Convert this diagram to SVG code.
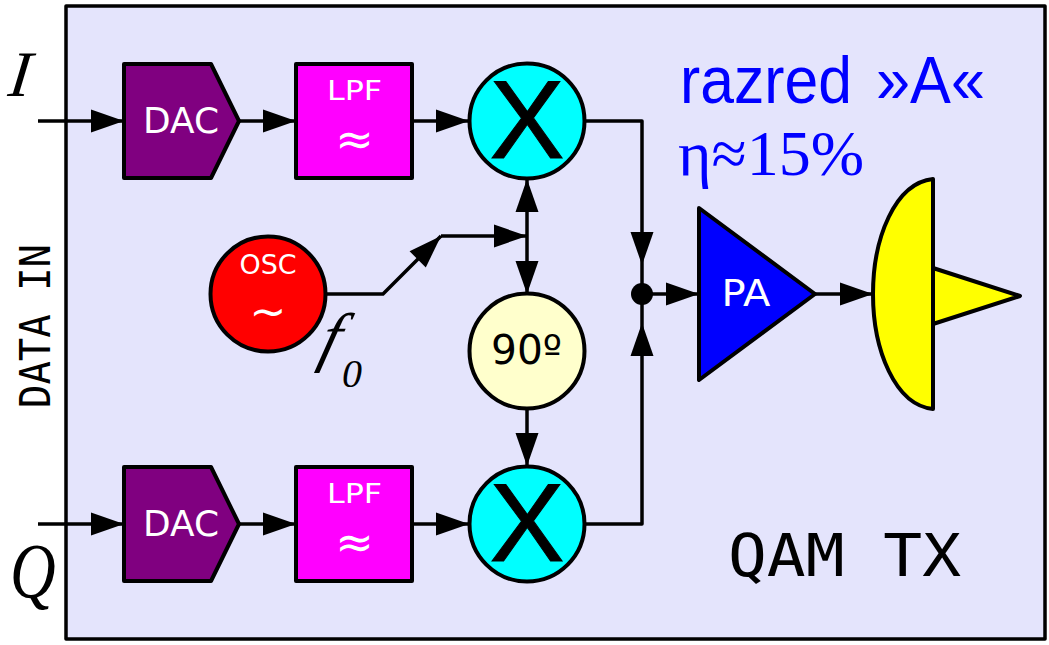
<svg xmlns="http://www.w3.org/2000/svg" width="1049" height="645" viewBox="0 0 1049 645">
<defs>
<marker id="arrow" markerUnits="userSpaceOnUse" markerWidth="33" markerHeight="23" refX="33" refY="11.5" orient="auto-start-reverse" overflow="visible"><path d="M0,0 L33,11.5 L0,23 Z" fill="#000"/></marker>
</defs>
<style>
.sh{stroke:#000;stroke-width:4;stroke-linejoin:round}
.ln{fill:none;stroke:#000;stroke-width:3.5;stroke-linejoin:round}
.a{marker-end:url(#arrow)}
.s{font-family:"DejaVu Sans",sans-serif;text-anchor:middle}
.x{font-family:"Liberation Sans",sans-serif;text-anchor:middle;fill:#000;stroke:#000;stroke-width:1;font-size:111px}
.w{fill:#fff}
.se{font-family:"Liberation Serif",serif;font-style:italic;fill:#000}
.m{font-family:"DejaVu Sans Mono",monospace;fill:#000}
.b{fill:#00f}
.h{font-family:"Liberation Sans",sans-serif;font-size:67px}
.t{font-family:"Liberation Serif","Times New Roman",serif;font-size:64px}
</style>
<rect id="frame" x="66" y="6" width="979" height="633" fill="#e4e4fc" stroke="#000" stroke-width="3.5" stroke-linejoin="round"/>
<g id="connectors">
<path class="ln a" d="M38,121H124"/>
<path class="ln a" d="M239,121H296"/>
<path class="ln a" d="M412,121H469"/>
<path class="ln a" d="M38,524H124"/>
<path class="ln a" d="M239,524H296"/>
<path class="ln a" d="M412,524H469"/>
<path class="ln a" d="M326,294H383L441,236"/>
<path class="ln a" d="M441,236H527"/>
<path class="ln a" d="M527,236V179"/>
<path class="ln a" d="M527,236V294"/>
<path class="ln a" d="M527,409V466"/>
<path class="ln a" d="M585,121H642V265"/>
<path class="ln a" d="M585,524H642V323"/>
<path class="ln" d="M642,265V323"/>
<path class="ln a" d="M642,294H699"/>
<path class="ln a" d="M815,294H873"/>
<circle cx="642" cy="294" r="11" fill="#000"/>
</g>
<g id="dac-i"><path class="sh" fill="#800080" d="M124,64H211L239,121L211,178H124Z"/><text class="s w" x="181" y="133" font-size="36" textLength="76" lengthAdjust="spacingAndGlyphs">DAC</text></g>
<g id="lpf-i"><rect class="sh" x="296" y="64" width="116" height="114" fill="#f0f"/><text class="s w" x="354.500" y="100" font-size="27" textLength="55" lengthAdjust="spacingAndGlyphs">LPF</text><text class="s w" x="354.500" y="155" font-size="46">≈</text></g>
<g id="mixer-i"><circle class="sh" cx="527" cy="121" r="57.5" fill="#0ff"/><text class="x" x="527" y="158" textLength="75" lengthAdjust="spacingAndGlyphs">X</text></g>
<g id="dac-q"><path class="sh" fill="#800080" d="M124,467H211L239,524L211,581H124Z"/><text class="s w" x="181" y="536" font-size="36" textLength="76" lengthAdjust="spacingAndGlyphs">DAC</text></g>
<g id="lpf-q"><rect class="sh" x="296" y="467" width="116" height="114" fill="#f0f"/><text class="s w" x="354.500" y="503" font-size="27" textLength="55" lengthAdjust="spacingAndGlyphs">LPF</text><text class="s w" x="354.500" y="558" font-size="46">≈</text></g>
<g id="mixer-q"><circle class="sh" cx="527" cy="524" r="57.5" fill="#0ff"/><text class="x" x="527" y="561" textLength="75" lengthAdjust="spacingAndGlyphs">X</text></g>
<g id="osc"><circle class="sh" cx="268" cy="294" r="57.5" fill="#f00"/><text class="s w" x="268" y="274" font-size="27" textLength="57" lengthAdjust="spacingAndGlyphs">OSC</text><text class="s w" x="268" y="327" font-size="44">~</text></g>
<g id="phase"><circle class="sh" cx="527" cy="351" r="57.5" fill="#ffc"/><text class="s" x="526.500" y="364" font-size="41" fill="#000" textLength="71" lengthAdjust="spacingAndGlyphs">90º</text></g>
<g id="pa"><path class="sh" fill="#00f" d="M699,208L815,294L699,380Z"/><text class="s w" x="746" y="306" font-size="37" textLength="49" lengthAdjust="spacingAndGlyphs">PA</text></g>
<g id="antenna"><path class="sh" fill="#ff0" d="M933,268L1020,296L933,324Z"/><path class="sh" fill="#ff0" d="M933,179V409C895,405 873,350 873,294C873,238 895,183 933,179Z"/></g>
<text class="se" transform="translate(7,96) skewX(-7)" font-size="65">I</text>
<text class="se" transform="translate(10,597) scale(1.02,1.25)" font-size="62">Q</text>
<text class="se" transform="translate(317,359) skewX(-15)" font-size="66">f</text>
<text class="se" x="342" y="387" font-size="40">0</text>
<text class="m" transform="translate(50,408) rotate(-90)" font-size="43" textLength="164" lengthAdjust="spacingAndGlyphs">DATA IN</text>
<text class="b h" x="680" y="103" textLength="172" lengthAdjust="spacingAndGlyphs">razred</text>
<text class="b h" x="876" y="103" textLength="109" lengthAdjust="spacingAndGlyphs">»A«</text>
<text class="b t" x="678" y="175" textLength="186" lengthAdjust="spacingAndGlyphs">η≈15%</text>
<text class="m" x="728" y="576" font-size="58" textLength="233" lengthAdjust="spacingAndGlyphs">QAM TX</text>
</svg>
